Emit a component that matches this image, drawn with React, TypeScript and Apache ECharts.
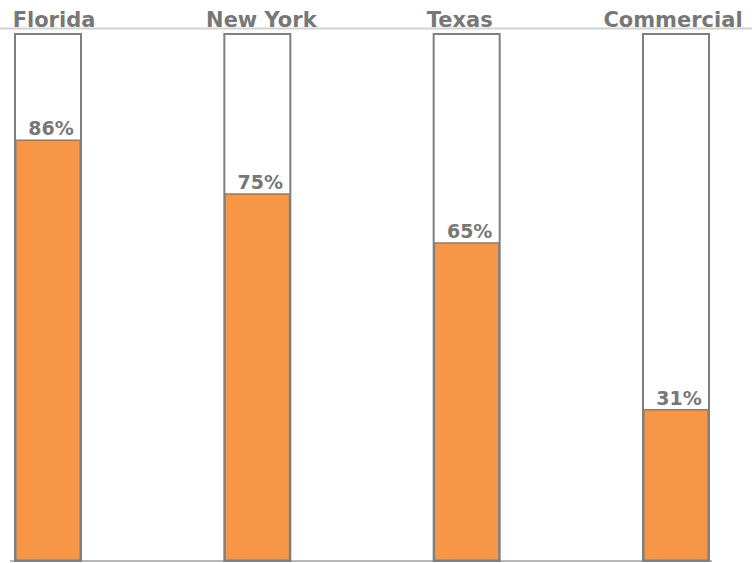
import React, { useEffect, useRef } from "react";
import * as echarts from "echarts";

const categories = ["Florida", "New York", "Texas", "Commercial"];
const values = [86, 75, 65, 31];
const axisMax = 107.5;

const FONT = "DejaVu Sans";
const labelStyle = { color: "#777777", fontFamily: FONT, fontWeight: "bold", fontSize: 21 };

export default function App() {
  const ref = useRef<HTMLDivElement>(null);
  useEffect(() => {
    document.body.style.margin = "0";
    const chart = echarts.init(ref.current!, null, { renderer: "svg" });
    chart.setOption({
      animation: false,
      backgroundColor: "#ffffff",
      grid: { left: 48, right: 76, top: 34, bottom: 2, containLabel: false },
      xAxis: {
        type: "category",
        data: categories,
        position: "top",
        boundaryGap: false,
        axisLine: { show: false },
        axisTick: { show: false },
        splitLine: { show: false },
        axisLabel: {
          interval: 0,
          hideOverlap: false,
          margin: 4,
          ...labelStyle,
          formatter: (v: string, i: number) => "{c" + i + "|" + v + "}",
          rich: {
            c0: { ...labelStyle, padding: [0, 0, 0, 12] },
            c1: { ...labelStyle, padding: [0, 0, 0, 8] },
            c2: { ...labelStyle, padding: [0, 14, 0, 0] },
            c3: { ...labelStyle, padding: [0, 6, 0, 0] },
          },
        },
      },
      yAxis: {
        type: "value",
        min: 0,
        max: axisMax,
        show: false,
      },
      graphic: [
        {
          type: "line",
          shape: { x1: 0, y1: 28.5, x2: 752, y2: 28.5 },
          style: { stroke: "#d2d2d2", lineWidth: 2 },
          z: 0,
        },
        {
          type: "line",
          shape: { x1: 10, y1: 561, x2: 712, y2: 561 },
          style: { stroke: "#b8b8b8", lineWidth: 2 },
          z: 0,
        },
      ],
      series: [
        {
          type: "bar",
          data: values,
          barWidth: 66,
          showBackground: true,
          backgroundStyle: {
            color: "#ffffff",
            borderColor: "#7f7f7f",
            borderWidth: 2,
          },
          itemStyle: {
            color: "#F79646",
            borderColor: "#7f7f7f",
            borderWidth: 1.5,
          },
          label: {
            show: true,
            position: "top",
            distance: 2,
            offset: [3, 0],
            formatter: "{c}%",
            color: "#777777",
            fontFamily: FONT,
            fontWeight: "bold",
            fontSize: 19,
          },
        },
      ],
    });
    return () => chart.dispose();
  }, []);
  return <div ref={ref} style={{ width: 752, height: 563 }} />;
}
